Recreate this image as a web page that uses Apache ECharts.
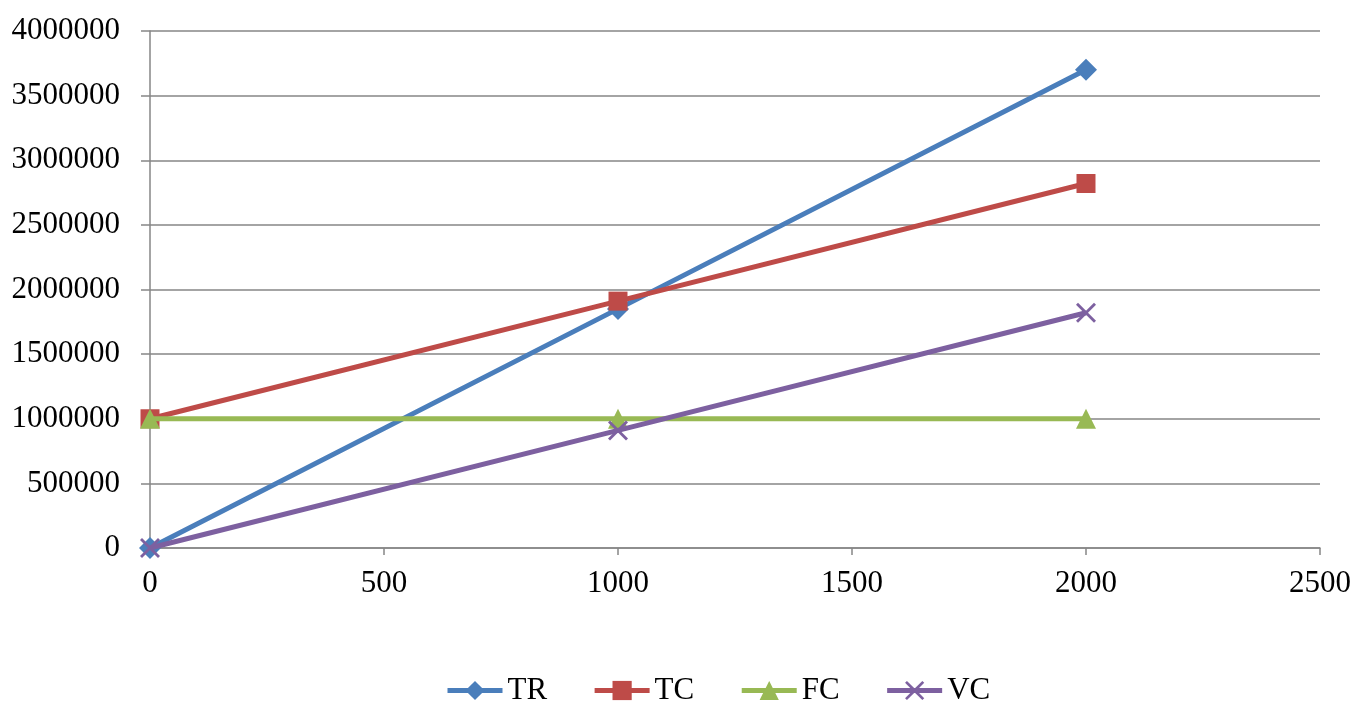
<!DOCTYPE html>
<html>
<head>
<meta charset="utf-8">
<script src="https://cdn.jsdelivr.net/npm/echarts@6/dist/echarts.min.js"></script>
<style>
html,body{margin:0;padding:0;background:#fff;}
#chart{width:1355px;height:702px;}
</style>
</head>
<body>
<div id="chart"></div>
<script>
// Output quantity (x) and the revenue / cost series
const quantity = [0, 1000, 2000];
const TR = [0, 1850000, 3700000];
const TC = [1000000, 1910000, 2820000];
const FC = [1000000, 1000000, 1000000];
const VC = [0, 910000, 1820000];
const seriesNames = ['TR', 'TC', 'FC', 'VC'];
const seriesValues = [TR, TC, FC, VC];
const colors = ['#4a7ebb', '#be4b48', '#98b954', '#7d60a0'];

// Thin X shaped polygon used as the VC marker
const crossPath = 'path://M1,0L5,4L9,0L10,1L6,5L10,9L9,10L5,6L1,10L0,9L4,5L0,1Z';
const symbols = ['diamond', 'rect', 'triangle', crossPath];
const symbolSizes = [22, 19, 20, 20];

const font = '"Liberation Serif", "Times New Roman", serif';
const gridColor = '#868686';

const chart = echarts.init(document.getElementById('chart'));
chart.setOption({
  animation: false,
  textStyle: { fontFamily: font },
  grid: { left: 150, right: 35, top: 31, bottom: 154, containLabel: false },
  legend: {
    left: 440,
    top: 670,
    itemWidth: 55,
    itemHeight: 24,
    itemGap: 45,
    lineStyle: { width: 5 },
    textStyle: { fontFamily: font, fontSize: 31, color: '#000' },
    data: seriesNames
  },
  xAxis: {
    type: 'value',
    min: 0, max: 2500, interval: 500,
    axisLine: { show: true, lineStyle: { color: gridColor, width: 1.5 } },
    axisTick: { show: true, length: 7, lineStyle: { color: gridColor, width: 1.5 } },
    splitLine: { show: false },
    axisLabel: { fontFamily: font, fontSize: 31, color: '#000', margin: 20, formatter: v => String(v) }
  },
  yAxis: {
    type: 'value',
    min: 0, max: 4000000, interval: 500000,
    axisLine: { show: true, lineStyle: { color: gridColor, width: 1.5 } },
    axisTick: { show: true, length: 9, lineStyle: { color: gridColor, width: 1.5 } },
    splitLine: { show: true, lineStyle: { color: gridColor, width: 1.5 } },
    axisLabel: { fontFamily: font, fontSize: 31, color: '#000', margin: 30, formatter: v => String(v) }
  },
  series: seriesNames.map((name, i) => ({
    name: name,
    type: 'line',
    data: quantity.map((q, j) => [q, seriesValues[i][j]]),
    symbol: symbols[i],
    symbolSize: symbolSizes[i],
    showAllSymbol: true,
    lineStyle: { color: colors[i], width: 5 },
    itemStyle: { color: colors[i], borderWidth: 0 },
    z: 2 + i
  }))
});
</script>
</body>
</html>
